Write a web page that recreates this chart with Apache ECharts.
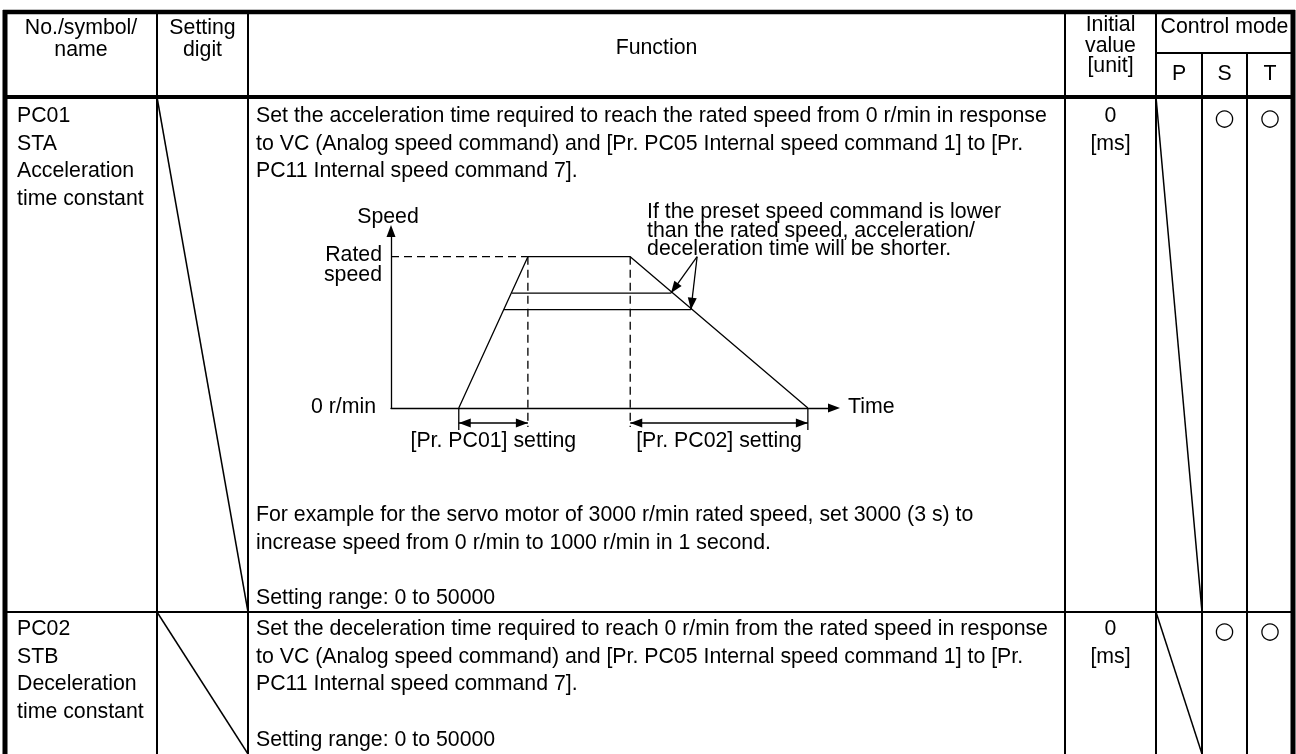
<!DOCTYPE html>
<html><head><meta charset="utf-8">
<script src="https://cdn.jsdelivr.net/npm/echarts@6/dist/echarts.min.js"></script>
<style>html,body{margin:0;padding:0;background:#fff}#c{width:1296px;height:754px}</style>
</head><body><div id="c"></div>
<script>
// ---------- table content ----------
const headerNo = ['No./symbol/', 'name'];
const headerDigit = ['Setting', 'digit'];
const headerFunction = ['Function'];
const headerInitial = ['Initial', 'value', '[unit]'];
const headerMode = 'Control mode';
const modeLabels = ['P', 'S', 'T'];

const paramNames = [
  ['PC01', 'STA', 'Acceleration', 'time constant'],
  ['PC02', 'STB', 'Deceleration', 'time constant']
];
const functionTop = [
  ['Set the acceleration time required to reach the rated speed from 0 r/min in response',
   'to VC (Analog speed command) and [Pr. PC05 Internal speed command 1] to [Pr.',
   'PC11 Internal speed command 7].'],
  ['Set the deceleration time required to reach 0 r/min from the rated speed in response',
   'to VC (Analog speed command) and [Pr. PC05 Internal speed command 1] to [Pr.',
   'PC11 Internal speed command 7].']
];
const functionExample = [
  'For example for the servo motor of 3000 r/min rated speed, set 3000 (3 s) to',
  'increase speed from 0 r/min to 1000 r/min in 1 second.'
];
const settingRange = ['Setting range: 0 to 50000', 'Setting range: 0 to 50000'];
const initialValues = [['0', '[ms]'], ['0', '[ms]']];
const modeMarks = [['', '\u25CB', '\u25CB'], ['', '\u25CB', '\u25CB']];

// ---------- diagram content (time units / speed in % of rated) ----------
const timeAxisMax = 100;
const speedAxisMax = 117;
const ratedSpeed = 100;
const accelStart = 15.3, accelEnd = 30.9, decelStart = 54.0, decelEnd = 94.1;
const profile = [[accelStart, 0], [accelEnd, ratedSpeed], [decelStart, ratedSpeed], [decelEnd, 0]];
const lowerLevels = [[76, 27.3, 63.2], [65, 25.5, 67.7]]; // speed, from, to
const belowDash = -12.6, belowTick = -14.6, arrowRow = -9.9;
const noteOrigin = [69.1, 100];
const noteTextStart = 57.8;
const speedLabels = ['Speed', 'Rated', 'speed', '0 r/min', 'Time'];
const settingLabels = ['[Pr. PC01] setting', '[Pr. PC02] setting'];
const noteLines = ['If the preset speed command is lower', 'than the rated speed, acceleration/', 'deceleration time will be shorter.'];

(function () {
// ---------- layout ----------
const FS = 21.3;
const FONT = FS + 'px "Liberation Sans", Arial, sans-serif';
const colX = [5, 157, 248, 1065, 1156, 1202, 1247, 1293];
const yTop = 12, yMode = 53, yHead = 97, ySep = 612, yBot = 754;
const LH = 27.5;

const g = [];
function L(x1, y1, x2, y2, w) {
  g.push({type: 'line', silent: true, shape: {x1, y1, x2, y2}, style: {stroke: '#000', lineWidth: w}});
}
function T(text, x, base, align, font) {
  const f = font || FONT;
  g.push({type: 'text', silent: true, x: x, y: base - 0.35 * FS,
    style: {text: text, font: f, fill: '#000', align: align || 'left', verticalAlign: 'middle'}});
}
// header texts
headerNo.forEach((t, i) => T(t, (colX[0] + colX[1]) / 2, 36 + i * 22, 'center'));
headerDigit.forEach((t, i) => T(t, (colX[1] + colX[2]) / 2, 36 + i * 22, 'center'));
headerFunction.forEach(t => T(t, (colX[2] + colX[3]) / 2, 56, 'center'));
headerInitial.forEach((t, i) => T(t, (colX[3] + colX[4]) / 2, 33 + i * 20.5, 'center'));
T(headerMode, (colX[4] + colX[7]) / 2, 35, 'center');
modeLabels.forEach((t, i) => T(t, (colX[4 + i] + colX[5 + i]) / 2, 82, 'center'));

// body rows
const rowBase = [124, 637];
paramNames.forEach((names, r) => names.forEach((t, i) => T(t, 17, rowBase[r] + i * LH, 'left')));
functionTop.forEach((lines, r) => lines.forEach((t, i) => T(t, 256, rowBase[r] + i * LH, 'left')));
functionExample.forEach((t, i) => T(t, 256, 523 + i * LH, 'left'));
T(settingRange[0], 256, 606, 'left');
T(settingRange[1], 256, 748, 'left');
initialValues.forEach((vals, r) => vals.forEach((t, i) => T(t, (colX[3] + colX[4]) / 2, rowBase[r] + i * LH, 'center')));
modeMarks.forEach((marks, r) => marks.forEach((t, i) => {
  if (t) T(t, (colX[4 + i] + colX[5 + i]) / 2, rowBase[r] + 2, 'center', '23px "DejaVu Sans", sans-serif');
}));

// table lines
L(colX[0] - 2, yTop, colX[7] + 2, yTop, 4.5);
L(colX[0], yTop - 2, colX[0], yBot, 5);
L(colX[7], yTop - 2, colX[7], yBot, 5);
L(colX[0], yHead, colX[7], yHead, 4);
[1, 2, 3, 4].forEach(i => L(colX[i], yTop, colX[i], yBot, 2));
[5, 6].forEach(i => L(colX[i], yMode, colX[i], yBot, 2));
L(colX[4], yMode, colX[7], yMode, 2);
L(colX[0], ySep, colX[7], ySep, 2);
L(colX[1], yHead, colX[2], ySep, 1.5);
L(colX[1], ySep, colX[2], yBot, 1.5);
L(colX[4], yHead, colX[5], ySep, 1.5);
L(colX[4], ySep, colX[5], yBot, 1.5);

// ---------- diagram series ----------
const black = '#000';
function seg(data, dashed) {
  return {type: 'line', data: data, symbol: 'none', clip: false, silent: true,
    lineStyle: {color: black, width: 1.3, type: dashed ? [8, 5] : 'solid'}};
}
const series = [
  seg(profile, false),
  seg([[0, ratedSpeed], [accelEnd, ratedSpeed]], true),
  seg([[accelEnd, ratedSpeed], [accelEnd, belowDash]], true),
  seg([[decelStart, ratedSpeed], [decelStart, belowDash]], true),
  seg([[accelStart, 0], [accelStart, belowTick]], false),
  seg([[decelEnd, 0], [decelEnd, belowTick]], false)
];
lowerLevels.forEach(l => series.push(seg([[l[1], l[0]], [l[2], l[0]]], false)));

// arrows: x1,y1,x2,y2,startHead,endHead
const arrows = [
  [accelStart, arrowRow, accelEnd, arrowRow, 1, 1],
  [decelStart, arrowRow, decelEnd, arrowRow, 1, 1],
  [noteOrigin[0], noteOrigin[1], lowerLevels[0][2], lowerLevels[0][0], 0, 1],
  [noteOrigin[0], noteOrigin[1], lowerLevels[1][2], lowerLevels[1][0], 0, 1]
];
function head(tip, from, len, hw) {
  const dx = tip[0] - from[0], dy = tip[1] - from[1];
  const d = Math.sqrt(dx * dx + dy * dy) || 1;
  const ux = dx / d, uy = dy / d;
  const bx = tip[0] - ux * len, by = tip[1] - uy * len;
  return {type: 'polygon', shape: {points: [tip, [bx - uy * hw, by + ux * hw], [bx + uy * hw, by - ux * hw]]},
    style: {fill: black}};
}
series.push({
  type: 'custom', clip: false, silent: true, data: arrows,
  encode: {x: [0, 2], y: [1, 3]},
  renderItem: function (params, api) {
    const p1 = api.coord([api.value(0), api.value(1)]);
    const p2 = api.coord([api.value(2), api.value(3)]);
    const ch = [{type: 'line', shape: {x1: p1[0], y1: p1[1], x2: p2[0], y2: p2[1]}, style: {stroke: black, lineWidth: 1.3}}];
    if (api.value(4)) ch.push(head(p1, p2, 12, 4.5));
    if (api.value(5)) ch.push(head(p2, p1, 12, 4.5));
    return {type: 'group', children: ch};
  }
});

const axisCommon = {
  type: 'value', axisTick: {show: false}, axisLabel: {show: false}, splitLine: {show: false},
  axisLine: {show: true, onZero: true, symbol: ['none', 'triangle'], symbolSize: [9, 12],
    lineStyle: {color: black, width: 1.3}}
};
const chart = echarts.init(document.getElementById('c'), null, {renderer: 'canvas'});
chart.setOption({
  animation: false,
  backgroundColor: '#fff',
  grid: {left: 391, top: 231, width: 443, height: 177, containLabel: false, outerBoundsMode: 'none'},
  xAxis: Object.assign({}, axisCommon, {min: 0, max: timeAxisMax}),
  yAxis: Object.assign({}, axisCommon, {min: 0, max: speedAxisMax}),
  series: series
});

// diagram labels placed through the grid's scales
function px(p) { return chart.convertToPixel({gridIndex: 0}, p); }
const o = px([0, 0]), yTopPx = px([0, speedAxisMax]), rated = px([0, ratedSpeed]);
const xEnd = px([timeAxisMax, 0]);
const a1 = px([accelStart, arrowRow]), a2 = px([accelEnd, arrowRow]);
const d1 = px([decelStart, arrowRow]), d2 = px([decelEnd, arrowRow]);
const note = px([noteTextStart, ratedSpeed]);
T(speedLabels[0], o[0] - 3, yTopPx[1] - 6, 'center');
T(speedLabels[1], o[0] - 9, rated[1] + 6, 'right');
T(speedLabels[2], o[0] - 9, rated[1] + 26, 'right');
T(speedLabels[3], o[0] - 15, o[1] + 7, 'right');
T(speedLabels[4], xEnd[0] + 14, o[1] + 7, 'left');
T(settingLabels[0], (a1[0] + a2[0]) / 2, a1[1] + 26, 'center');
T(settingLabels[1], (d1[0] + d2[0]) / 2, d1[1] + 26, 'center');
noteLines.forEach((t, i) => T(t, note[0], note[1] - 37 + i * 18.5, 'left'));
chart.setOption({graphic: g});
})();
</script></body></html>
